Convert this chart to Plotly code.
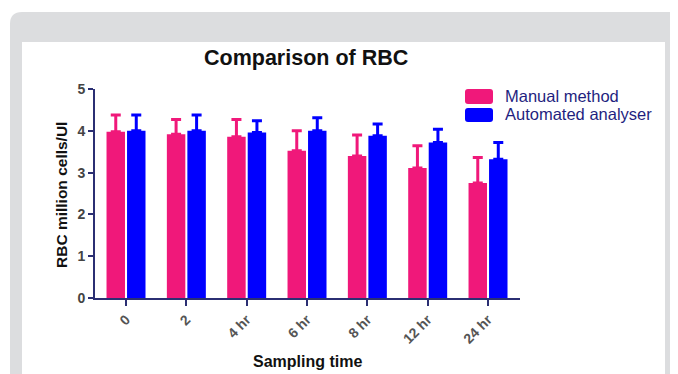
import plotly.graph_objects as go

categories = ["0", "2", "4 hr", "6 hr", "8 hr", "12 hr", "24 hr"]
manual_mean = [3.98, 3.92, 3.86, 3.52, 3.40, 3.11, 2.75]
manual_err = [0.40, 0.35, 0.41, 0.48, 0.50, 0.53, 0.61]
auto_mean = [4.00, 4.00, 3.96, 4.00, 3.88, 3.72, 3.32]
auto_err = [0.38, 0.38, 0.28, 0.31, 0.28, 0.32, 0.40]
y_ticks = [0, 1, 2, 3, 4, 5]
series_names = ["Manual method", "Automated analyser"]

PINK = "#F0187A"
BLUE = "#0000FF"
NAVY = "#2B2F73"
OFF = 8  # page body margin
W, H = 670, 366
ML, MR, MT, MB = 87, 158, 81, 76
PW, PH = W - ML - MR, H - MT - MB


def px(x):  # page pixel -> paper x
    return (x - OFF - ML) / PW


def py(y):  # page pixel -> paper y
    return (H - MB - (y - OFF)) / PH


def rrect(x0, y0, x1, y1, r):
    return (f"M {px(x0 + r)},{py(y0)} L {px(x1 - r)},{py(y0)} "
            f"Q {px(x1)},{py(y0)} {px(x1)},{py(y0 + r)} "
            f"L {px(x1)},{py(y1 - r)} Q {px(x1)},{py(y1)} {px(x1 - r)},{py(y1)} "
            f"L {px(x0 + r)},{py(y1)} Q {px(x0)},{py(y1)} {px(x0)},{py(y1 - r)} "
            f"L {px(x0)},{py(y0 + r)} Q {px(x0)},{py(y0)} {px(x0 + r)},{py(y0)} Z")


fig = go.Figure()
xs = list(range(len(categories)))
fig.add_trace(go.Bar(
    name=series_names[0], x=xs, y=manual_mean,
    marker=dict(color=PINK, line=dict(width=0)),
    error_y=dict(type="data", symmetric=False, array=manual_err,
                 arrayminus=[0] * len(manual_err), color=PINK, thickness=3, width=5),
))
fig.add_trace(go.Bar(
    name=series_names[1], x=xs, y=auto_mean,
    marker=dict(color=BLUE, line=dict(width=0)),
    error_y=dict(type="data", symmetric=False, array=auto_err,
                 arrayminus=[0] * len(auto_err), color=BLUE, thickness=3, width=5),
))

shapes = [
    dict(type="path", xref="paper", yref="paper",
         path=rrect(10, 12, 740, 460, 12),
         fillcolor="#DCDDDF", line=dict(width=0), layer="below"),
    dict(type="rect", xref="paper", yref="paper",
         x0=px(22), x1=px(665), y0=py(460), y1=py(42),
         fillcolor="white", line=dict(width=0), layer="below"),
    # legend swatches
    dict(type="path", xref="paper", yref="paper", path=rrect(465, 89, 493, 104, 3),
         fillcolor=PINK, line=dict(width=0)),
    dict(type="path", xref="paper", yref="paper", path=rrect(465, 108, 493, 122, 3),
         fillcolor=BLUE, line=dict(width=0)),
]

annotations = [
    dict(text="Comparison of RBC", xref="paper", yref="paper",
         x=px(306), y=py(58), showarrow=False, xanchor="center", yanchor="middle",
         font=dict(size=21.5, color="#111", weight="bold")),
    dict(text="RBC million cells/Ul", xref="paper", yref="paper",
         x=px(61), y=py(195), showarrow=False, textangle=-90,
         xanchor="center", yanchor="middle",
         font=dict(size=15.5, color="#111", weight="bold")),
    dict(text="Sampling time", xref="paper", yref="paper",
         x=px(307), y=py(361), showarrow=False, xanchor="center", yanchor="middle",
         font=dict(size=16, color="#111", weight="bold")),
    dict(text=series_names[0], xref="paper", yref="paper",
         x=px(504), y=py(95.5), showarrow=False, xanchor="left", yanchor="middle",
         borderpad=0, font=dict(size=16.5, color="#1F1F80")),
    dict(text=series_names[1], xref="paper", yref="paper",
         x=px(504), y=py(114), showarrow=False, xanchor="left", yanchor="middle",
         borderpad=0, font=dict(size=16.5, color="#1F1F80")),
]

fig.update_layout(
    width=W, height=H,
    margin=dict(l=ML, r=MR, t=MT, b=MB),
    paper_bgcolor="white", plot_bgcolor="rgba(0,0,0,0)",
    barmode="group", bargap=0.32, bargroupgap=0.1,
    font=dict(family="Liberation Sans, Arial, sans-serif", color="#222"),
    shapes=shapes, annotations=annotations,
    showlegend=False,
    xaxis=dict(
        range=[-0.514, 6.53], tickmode="array",
        tickvals=xs, ticktext=categories,
        tickangle=-45, tickfont=dict(size=14, color="#555", weight="bold"),
        showline=True, linecolor=NAVY, linewidth=2,
        ticks="outside", ticklen=6, tickwidth=2, tickcolor=NAVY,
        showgrid=False, zeroline=False, fixedrange=True,
    ),
    yaxis=dict(
        range=[0, 5], tickmode="array", tickvals=y_ticks,
        tickfont=dict(size=14, color="#444", weight="bold"),
        showline=True, linecolor=NAVY, linewidth=2,
        ticks="outside", ticklen=5, tickwidth=2, tickcolor=NAVY,
        showgrid=False, zeroline=False, fixedrange=True,
    ),
)

fig.write_html("out.html")
